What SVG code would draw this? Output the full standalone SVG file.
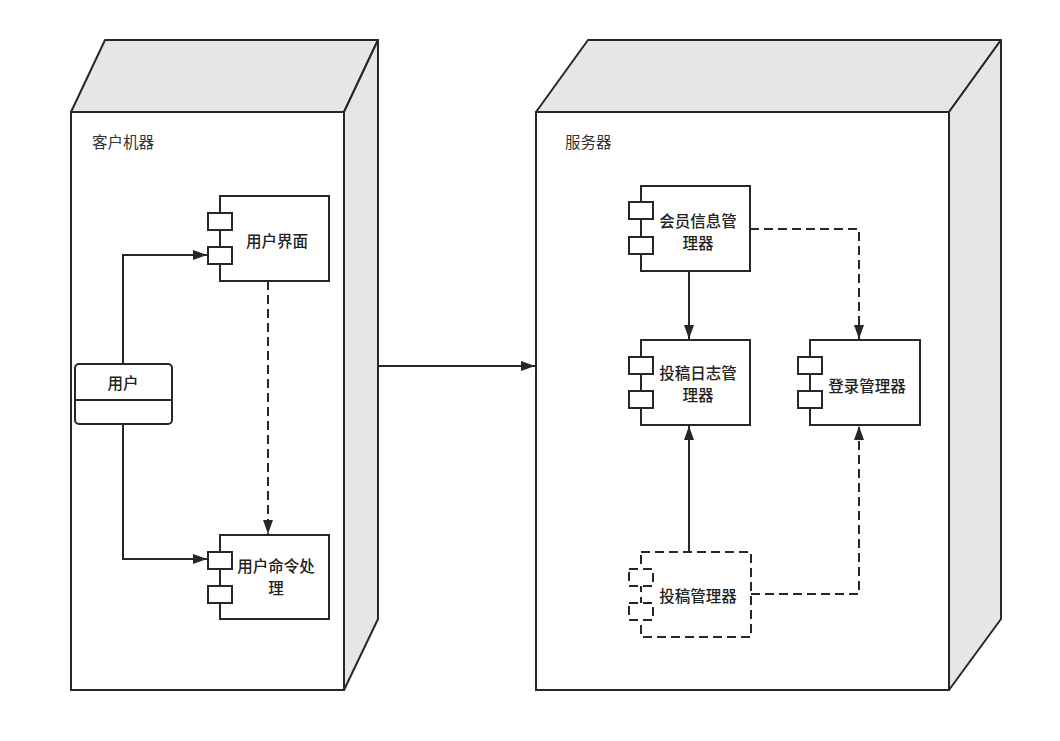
<svg xmlns="http://www.w3.org/2000/svg" width="1060" height="741" viewBox="0 0 1060 741">
<defs>
<style>
.ln{stroke:#23282d;stroke-width:2;fill:none}
.sd{stroke:#23282d;stroke-width:2;fill:#e6e6e6;stroke-linejoin:round}
.fr{stroke:#23282d;stroke-width:2;fill:#fff}
.dash{stroke-dasharray:9 5}
.t{font-family:"Noto Sans CJK SC","Noto Sans",sans-serif;font-size:15.5px;font-weight:500;fill:#222;text-anchor:middle;dominant-baseline:central}
.lb{font-family:"Noto Sans CJK SC","Noto Sans",sans-serif;font-size:15.5px;fill:#333}
</style>
<marker id="ah" markerUnits="userSpaceOnUse" markerWidth="16" markerHeight="12" refX="14" refY="5" orient="auto">
<path d="M0,0 L14,5 L0,10 Z" fill="#23282d"/>
</marker>
</defs>
<rect width="1060" height="741" fill="#fff"/>

<g id="client-node">
<path class="sd" d="M71,112 L105,40 L378,40 L344,112 Z"/>
<path class="sd" d="M344,112 L378,40 L378,619 L344,690 Z"/>
<rect class="fr" x="71" y="112" width="273" height="578"/>
<text class="lb" x="92" y="148">客户机器</text>
</g>

<g id="server-node">
<path class="sd" d="M536,112 L588,40 L1001,40 L949,112 Z"/>
<path class="sd" d="M949,112 L1001,40 L1001,619 L949,690 Z"/>
<rect class="fr" x="536" y="112" width="413" height="578"/>
<text class="lb" x="565" y="148">服务器</text>
</g>

<g id="user">
<rect class="fr" x="75" y="364" width="97" height="60" rx="4"/>
<line class="ln" x1="75" y1="400" x2="172" y2="400"/>
<text class="t" x="123" y="382">用户</text>
</g>

<g id="ui">
<rect class="fr" x="220" y="196" width="109" height="85"/>
<rect class="fr" x="208" y="213" width="24" height="17"/>
<rect class="fr" x="208" y="247" width="24" height="17"/>
<text class="t" x="277" y="240">用户界面</text>
</g>

<g id="cmd">
<rect class="fr" x="220" y="535" width="109" height="84"/>
<rect class="fr" x="208" y="552" width="24" height="17"/>
<rect class="fr" x="208" y="586" width="24" height="17"/>
<text class="t" x="276" y="565">用户命令处</text>
<text class="t" x="276" y="587">理</text>
</g>

<g id="member">
<rect class="fr" x="641" y="186" width="109" height="85"/>
<rect class="fr" x="629" y="202" width="24" height="17"/>
<rect class="fr" x="629" y="237" width="24" height="17"/>
<text class="t" x="698" y="220">会员信息管</text>
<text class="t" x="698" y="242">理器</text>
</g>

<g id="postlog">
<rect class="fr" x="641" y="340" width="109" height="85"/>
<rect class="fr" x="629" y="357" width="24" height="17"/>
<rect class="fr" x="629" y="391" width="24" height="17"/>
<text class="t" x="698" y="372">投稿日志管</text>
<text class="t" x="698" y="394">理器</text>
</g>

<g id="login">
<rect class="fr" x="810" y="340" width="110" height="85"/>
<rect class="fr" x="798" y="357" width="24" height="17"/>
<rect class="fr" x="798" y="391" width="24" height="17"/>
<text class="t" x="867" y="385">登录管理器</text>
</g>

<g id="post">
<rect class="fr dash" x="641" y="552" width="110" height="85"/>
<rect class="fr dash" x="629" y="569" width="24" height="17"/>
<rect class="fr dash" x="629" y="603" width="24" height="17"/>
<text class="t" x="698" y="595">投稿管理器</text>
</g>

<g id="connectors">
<path class="ln" d="M123,364 L123,255 L207,255" marker-end="url(#ah)"/>
<path class="ln" d="M123,424 L123,559 L207,559" marker-end="url(#ah)"/>
<path class="ln dash" d="M268,281 L268,534" marker-end="url(#ah)"/>
<path class="ln" d="M378,366 L535,366" marker-end="url(#ah)"/>
<path class="ln" d="M689,271 L689,339" marker-end="url(#ah)"/>
<path class="ln dash" d="M750,229 L859,229 L859,339" marker-end="url(#ah)"/>
<path class="ln" d="M689,552 L689,426" marker-end="url(#ah)"/>
<path class="ln dash" d="M751,594 L859,594 L859,426" marker-end="url(#ah)"/>
</g>
</svg>
